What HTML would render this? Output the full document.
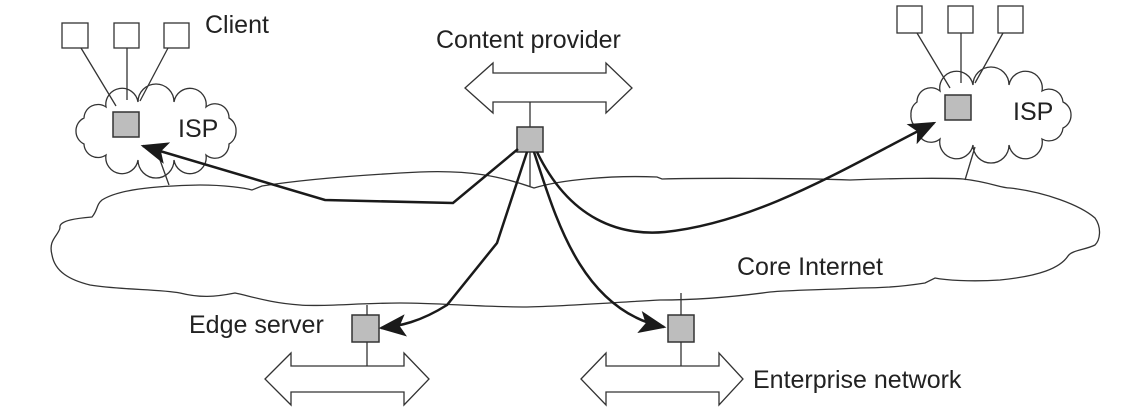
<!DOCTYPE html>
<html><head><meta charset="utf-8"><style>
html,body{margin:0;padding:0;background:#fff;}
svg{display:block;}
text{font-family:"Liberation Sans",Arial,sans-serif;font-size:25px;fill:#222;}
</style></head><body>
<svg width="1138" height="408" viewBox="0 0 1138 408" xmlns="http://www.w3.org/2000/svg">
<defs>
<marker id="ah" markerWidth="11" markerHeight="9" refX="10" refY="4.5" orient="auto" markerUnits="strokeWidth">
<path d="M0,0 L11,4.5 L0,9 L2.5,4.5 Z" fill="#1a1a1a"/>
</marker>
</defs>
<g fill="none" stroke="#333" stroke-width="1.3">
<path fill="#fff" d="M 52,255 C 48,240 58,236 60,228 C 58,220 80,218 92,217 C 98,210 96,205 102,200 C 118,190 150,186 200,185 C 225,185 245,188 252,190 L 262,186 C 300,180 360,175 420,172 C 470,170 500,176 534,188 C 560,180 610,175 657,177 L 662,179 C 700,178 800,178 850,180 C 900,178 950,178 963,179 C 990,182 1000,188 1010,188 C 1045,192 1080,205 1095,218 C 1102,228 1100,240 1095,245 C 1085,250 1072,250 1068,256 C 1060,268 1040,276 1000,280 C 970,282 945,280 935,278 L 925,283 C 900,287 880,288 860,288 C 820,290 790,290 770,292 C 740,296 700,300 660,300 C 620,302 570,306 527,307 C 480,307 440,303 400,303 C 360,303 320,307 300,305 C 270,303 250,296 235,293 C 215,297 200,298 180,293 C 160,289 120,290 90,285 C 70,280 55,272 52,255 Z"/>
<path fill="#fff" d="M236,131 A14,14 0 0 1 229,144 A14,14 0 0 1 206,155 A14,14 0 0 1 174,160 A14,14 0 0 1 138,160 A14,14 0 0 1 106,155 A14,14 0 0 1 84,144 A14,14 0 0 1 76,131 A14,14 0 0 1 84,118 A14,14 0 0 1 106,107 A14,14 0 0 1 138,102 A14,14 0 0 1 174,102 A14,14 0 0 1 206,107 A14,14 0 0 1 229,118 A14,14 0 0 1 236,131 Z"/>
<path fill="#fff" d="M1071,115 A14,14 0 0 1 1063,128 A14,14 0 0 1 1042,139 A14,14 0 0 1 1009,145 A14,14 0 0 1 973,145 A14,14 0 0 1 940,139 A14,14 0 0 1 917,128 A14,14 0 0 1 911,115 A14,14 0 0 1 917,102 A14,14 0 0 1 940,91 A14,14 0 0 1 973,85 A14,14 0 0 1 1009,85 A14,14 0 0 1 1042,91 A14,14 0 0 1 1063,102 A14,14 0 0 1 1071,115 Z"/>
<line x1="81" y1="48" x2="116" y2="106"/><line x1="127" y1="48" x2="127" y2="100"/><line x1="168" y1="48" x2="140" y2="101"/>
<line x1="160" y1="160" x2="169" y2="185"/>
<line x1="917" y1="33" x2="950" y2="88"/><line x1="961" y1="33" x2="961" y2="83"/><line x1="1003" y1="33" x2="975" y2="83"/>
<line x1="975" y1="147" x2="965" y2="180"/>
<line x1="530" y1="102" x2="530" y2="127"/>
<line x1="530" y1="152" x2="530" y2="186"/>
<line x1="367" y1="305" x2="367" y2="315"/><line x1="367" y1="342" x2="367" y2="366"/>
<line x1="681" y1="293" x2="681" y2="315"/><line x1="681" y1="342" x2="681" y2="366"/>
<rect x="62" y="23" width="26" height="25" fill="#fff"/><rect x="114" y="23" width="25" height="25" fill="#fff"/><rect x="164" y="23" width="25" height="25" fill="#fff"/>
<rect x="897" y="6" width="25" height="27" fill="#fff"/><rect x="948" y="6" width="25" height="27" fill="#fff"/><rect x="998" y="6" width="25" height="27" fill="#fff"/>
<path fill="#fff" d="M465,88 L493,63 L493,73 L606,73 L606,63 L632,88 L606,113 L606,102 L493,102 L493,113 Z"/>
<path fill="#fff" d="M265,379 L291,353 L291,366 L404,366 L404,353 L429,379 L404,405 L404,392 L291,392 L291,405 Z"/>
<path fill="#fff" d="M581,379 L606,353 L606,366 L719,366 L719,353 L743,379 L719,405 L719,392 L606,392 L606,405 Z"/>
</g>
<g fill="#bdbdbd" stroke="#333" stroke-width="1.5">
<rect x="113" y="112" width="26" height="25"/>
<rect x="945" y="95" width="26" height="25"/>
<rect x="517" y="127" width="26" height="25"/>
<rect x="352" y="315" width="27" height="27"/>
<rect x="668" y="315" width="26" height="27"/>
</g>
<g fill="none" stroke="#1a1a1a" stroke-width="2.5" marker-end="url(#ah)">
<path d="M518,149 L453,203 L325,200 L143,146"/>
<path d="M527,152 L497,243 L447,305 C 420,322 400,326 381,328"/>
<path d="M534,152 C 555,215 580,310 664,327"/>
<path d="M537,152 C 570,220 620,236 665,232 C 760,222 850,165 934,123"/>
</g>
<text x="205" y="33">Client</text>
<text x="178" y="137">ISP</text>
<text x="1013" y="120">ISP</text>
<text x="436" y="48">Content provider</text>
<text x="737" y="275">Core Internet</text>
<text x="189" y="333">Edge server</text>
<text x="753" y="388">Enterprise network</text>
</svg>
</body></html>
